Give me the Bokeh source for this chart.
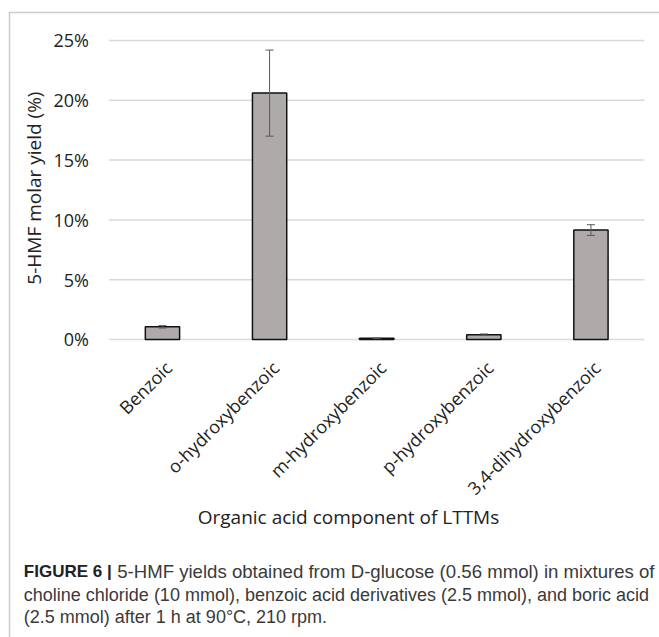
import math
from bokeh.plotting import figure
from bokeh.models import (ColumnDataSource, Range1d, Whisker, TeeHead, Label, BoxAnnotation)
from bokeh.core.properties import value
from bokeh.embed import file_html
from bokeh.resources import INLINE

categories = ["Benzoic", "o-hydroxybenzoic", "m-hydroxybenzoic", "p-hydroxybenzoic", "3,4-dihydroxybenzoic"]
yield_pct = [1.06, 20.6, 0.1, 0.4, 9.15]
error_pct = [0.1, 3.6, 0.03, 0.06, 0.45]
y_ticks = [0, 5, 10, 15, 20, 25]
y_tick_labels = ["0%", "5%", "10%", "15%", "20%", "25%"]

y_title = "5-HMF molar yield (%)"
x_title = "Organic acid component of LTTMs"
caption_bold = "FIGURE 6 |"
caption_lines = [
    "5-HMF yields obtained from D-glucose (0.56 mmol) in mixtures of",
    "choline chloride (10 mmol), benzoic acid derivatives (2.5 mmol), and boric acid",
    "(2.5 mmol) after 1 h at 90\u00b0C, 210 rpm.",
]
caption_sizes = ["18.6px", "18px", "18px"]

n = len(categories)
idx = list(range(n))
src = ColumnDataSource(dict(
    x=idx,
    cat=categories,
    val=yield_pct,
    upper=[v + e for v, e in zip(yield_pct, error_pct)],
    lower=[v - e for v, e in zip(yield_pct, error_pct)],
    zero=[0] * n,
))
grid_src = ColumnDataSource(dict(
    y=y_ticks, lab=y_tick_labels,
    x0=[-0.5] * len(y_ticks), x1=[n - 0.5] * len(y_ticks),
))

W, H = 659, 637
p = figure(width=W, height=H, x_range=Range1d(-1.512, 4.640), y_range=Range1d(-24.916, 28.344),
           min_border=0, output_backend="svg", toolbar_location=None)
p.background_fill_color = "white"
p.border_fill_color = "white"
p.outline_line_color = None
p.axis.visible = False
p.grid.visible = False

# gridlines
p.segment(x0="x0", x1="x1", y0="y", y1="y", source=grid_src, line_color="#d9d9d9", line_width=1.5)
# y tick labels
p.text(x="x0", y="y", text="lab", source=grid_src, x_offset=-20, text_align="right",
       text_baseline="middle", text_font=value("Open Sans"), text_font_size="18px",
       text_color="#222222")

p.vbar(x="x", top="val", width=0.32, source=src, fill_color="#aeaaaa",
       line_color="#111111", line_width=1.5)

w = Whisker(base="x", upper="upper", lower="lower", source=src, level="overlay",
            line_color="#595959", line_width=1,
            upper_head=TeeHead(size=8, line_color="#595959", line_width=1),
            lower_head=TeeHead(size=8, line_color="#595959", line_width=1))
p.add_layout(w)

# category labels
p.text(x="x", y="zero", text="cat", source=src, angle=math.pi / 4,
       text_align="right", text_baseline="middle", x_offset=6, y_offset=25,
       text_font=value("Open Sans"), text_font_size="18px", text_color="#222222")

p.add_layout(Label(x=33.3, y=H - 187.6, x_units="screen", y_units="screen", text=y_title,
                   angle=math.pi / 2, text_align="center", text_baseline="middle",
                   text_font="Open Sans", text_font_size="19px", text_color="#222222"))
p.add_layout(Label(x=348, y=H - 516.7, x_units="screen", y_units="screen", text=x_title,
                   text_align="center", text_baseline="middle",
                   text_font="Open Sans", text_font_size="19px", text_color="#222222"))

line_y = [570.7, 594.0, 616.7]
p.add_layout(Label(x=23.3, y=H - line_y[0], x_units="screen", y_units="screen", text=caption_bold,
                   text_align="left", text_baseline="middle", text_font="Liberation Sans",
                   text_font_style="bold", text_font_size="17px", text_color="#222222"))
for i, t in enumerate(caption_lines):
    x0 = 116.7 if i == 0 else 23.3
    p.add_layout(Label(x=x0, y=H - line_y[i], x_units="screen", y_units="screen", text=t,
                       text_align="left", text_baseline="middle", text_font="Liberation Sans",
                       text_font_size=caption_sizes[i], text_color="#3a3a3a"))

p.add_layout(BoxAnnotation(left=9, right=720, top=H - 12, bottom=-50,
                           left_units="screen", right_units="screen",
                           top_units="screen", bottom_units="screen",
                           fill_alpha=0, line_color="#555555", line_width=1.5))

open("out.html", "w").write(file_html(p, INLINE))
